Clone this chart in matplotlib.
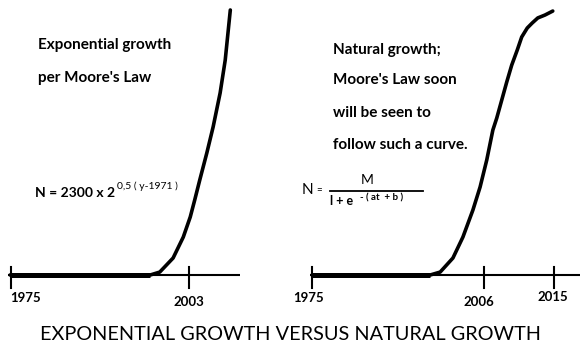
import matplotlib
matplotlib.use('Agg')
import matplotlib.pyplot as plt
from matplotlib.lines import Line2D

plt.rcParams['font.family'] = ['Lato', 'DejaVu Sans']

# left panel: exponential growth (values on a 0-100 relative scale)
left_years = [1974.85, 1996.9, 1998.4, 2000.5, 2002.1, 2003.2, 2003.9, 2004.7,
              2005.8, 2006.8, 2007.9, 2008.7, 2009.5]
left_values = [0, 0, 1.1, 6.4, 14.3, 21.9, 28.3, 35.9, 46.0, 55.9, 68.7, 81.1, 100]
left_tick_pos = [1975, 2003]
left_tick_labels = ['1975', '2003']

# right panel: natural (logistic) growth
right_years = [1975.0, 1996.3, 1998.1, 2000.4, 2002.2, 2004.0, 2005.3, 2006.5,
               2007.6, 2008.3, 2009.2, 2010.1, 2011.0, 2012.0, 2012.8, 2013.8,
               2014.7, 2015.7, 2017.0, 2018.4]
right_values = [0, 0, 1.1, 6.4, 14.3, 24.5, 33.2, 43.4, 54.7, 59.2, 66.0, 72.8,
                79.2, 84.9, 89.8, 93.2, 95.1, 97.0, 98.1, 99.6]
# the sketch is not to scale: 2015 sits further right than it should
right_tick_pos = [1975, 2006, 2018.6]
right_tick_labels = ['1975', '2006', '2015']

fig = plt.figure(figsize=(5.8, 3.55), dpi=100)
ax1 = fig.add_axes([0, 0, 0.5, 1])
ax2 = fig.add_axes([0.5, 0, 0.5, 1])
ax1.set_xlim(1973.27, 2018.89)
ax2.set_xlim(1971.03, 2023.31)
for ax in (ax1, ax2):
    ax.set_ylim(-30.19, 103.77)
    ax.axis('off')


def draw_panel(ax, years, values, tick_pos, tick_labels, axis_end, label_style):
    # time axis
    ax.plot([years[0] - 0.35, axis_end], [0, 0], color='black', lw=1.5,
            solid_capstyle='butt')
    # flat part of the curve is drawn heavier
    flat = [y for y, v in zip(years, values) if v == 0]
    ax.plot([flat[0], flat[-1]], [0, 0], color='black', lw=3.6,
            solid_capstyle='butt')
    ax.plot(years, values, color='black', lw=2.6, solid_joinstyle='round',
            solid_capstyle='round')
    for pos, lab, (ha, dy, dx) in zip(tick_pos, tick_labels, label_style):
        ax.plot([pos, pos], [3.0, -4.8], color='black', lw=1.5)
        ax.text(pos + dx, dy, lab, ha=ha, va='center', fontsize=9.5,
                fontweight='bold')


draw_panel(ax1, left_years, left_values, left_tick_pos, left_tick_labels, 2011.0,
           [('left', -8.7, -0.2), ('center', -10.2, 0)])
draw_panel(ax2, right_years, right_values, right_tick_pos, right_tick_labels, 2023.3,
           [('center', -8.7, -0.6), ('center', -10.2, -1.0), ('center', -8.3, -0.2)])


def px_text(x, y, s, **kw):
    fig.text(x / 580, 1 - y / 355, s, va='center', **kw)


px_text(38, 45, 'Exponential growth', fontsize=11, fontweight='bold')
px_text(38, 78, "per Moore's Law", fontsize=11, fontweight='bold')
px_text(35, 193, 'N = 2300 x 2', fontsize=10, fontweight='bold')
px_text(117, 186, '0,5 ( y-1971 )', fontsize=7.5)

for i, line in enumerate(['Natural growth;', "Moore's Law soon",
                          'will be seen to', 'follow such a curve.']):
    px_text(333, [50, 80, 113, 145][i], line, fontsize=11, fontweight='bold')

px_text(302, 190, 'N', fontsize=11)
px_text(316, 191, '=', fontsize=7)
fig.text(367 / 580, 1 - 180 / 355, 'M', fontsize=10, ha='center', va='center')
fig.add_artist(Line2D([330 / 580, 423 / 580], [1 - 191 / 355, 1 - 191 / 355],
                      color='black', lw=1.3))
px_text(330, 201, 'l + e', fontsize=9, fontweight='bold')
px_text(360, 198, '- ( at  + b )', fontsize=7, fontweight='bold')

fig.text(0.5, 1 - 334 / 355, 'EXPONENTIAL GROWTH VERSUS NATURAL GROWTH',
         ha='center', va='center', fontsize=14.3)

fig.savefig('out.png', dpi=100)
